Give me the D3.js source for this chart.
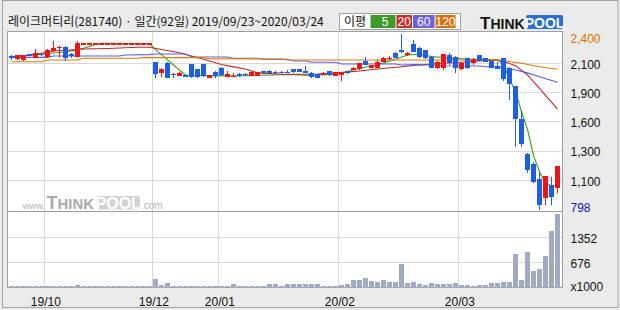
<!DOCTYPE html>
<html>
<head>
<meta charset="utf-8">
<script src="https://cdn.jsdelivr.net/npm/d3@7"></script>
<style>
  html, body { margin: 0; padding: 0; background: #ebebeb; }
  svg { display: block; }
</style>
</head>
<body>
<div id="chart"></div>
<script>
const titleText = "레이크머티리(281740) · 일간(92일) 2019/09/23~2020/03/24"

const opens = [2202,2172,2166,2217,2184,2215,2186,2248,2269,2284,2217,2193,
  2315,2315,2315,2315,2315,2315,2315,2315,2315,2315,2315,2315,
  2144,2041,2138,2037,2019,2026,2126,2080,2126,2001,2056,2092,2010,2010,2032,2035,
  2019,2019,2062,2065,2056,2056,2056,2077,2077,2062,2047,2032,2026,2062,2017,2026,
  2062,2071,2078,2153,2092,2092,2142,2170,2229,2254,2208,2309,2275,2254,2193,2092,
  2092,2208,2193,2080,2178,2133,2208,2178,2153,2110,2178,2092,1925,1621,1302,1213,
  1074,906,1022,997]
const highs = [2205,2210,2210,2220,2260,2220,2262,2336,2287,2286,2224,2336,
  2315,2315,2315,2315,2315,2315,2315,2315,2315,2315,2315,2315,
  2144,2092,2140,2040,2050,2030,2128,2082,2128,2028,2058,2095,2062,2041,2041,2040,
  2053,2056,2065,2075,2060,2062,2068,2080,2080,2111,2050,2035,2050,2065,2056,2056,
  2065,2095,2136,2193,2120,2163,2187,2195,2232,2400,2235,2345,2278,2258,2196,2150,
  2220,2224,2196,2136,2180,2178,2210,2180,2156,2147,2180,2095,1928,1706,1311,1234,
  1143,1107,1092,1198]
const lows = [2163,2165,2156,2195,2178,2198,2180,2238,2193,2153,2178,2190,
  2315,2315,2315,2315,2315,2315,2315,2315,2315,2315,2315,2315,
  2001,2010,1998,2001,2015,2005,2001,2001,2008,1998,2001,2020,2008,2005,2010,2015,
  2015,2015,2035,2040,2038,2040,2040,2045,2050,2044,2001,1998,2023,2020,2015,1974,
  2038,2068,2075,2115,2090,2090,2140,2165,2180,2228,2200,2235,2178,2170,2088,2080,
  2071,2117,2041,2075,2083,2117,2150,2145,2090,2078,1971,1797,1366,1366,1128,1037,
  798,839,839,946]
const closes = [2178,2208,2208,2199,2224,2205,2254,2269,2284,2178,2199,2315,
  2315,2315,2315,2315,2315,2315,2315,2315,2315,2315,2315,2315,
  2032,2080,2001,2023,2047,2010,2005,2010,2015,2026,2019,2026,2032,2019,2015,2023,
  2050,2053,2041,2047,2044,2047,2047,2050,2056,2047,2005,2001,2047,2026,2053,2053,
  2041,2092,2133,2117,2117,2147,2184,2184,2184,2233,2224,2238,2193,2178,2092,2147,
  2217,2133,2092,2133,2087,2169,2153,2147,2092,2080,1989,1944,1621,1393,1159,1052,
  839,1104,915,1195]

// volume, x1000 shares
const volumes = [30,25,30,20,35,20,40,45,30,40,25,81,
  0,0,0,0,0,0,0,0,0,0,0,0,
  235,81,117,40,35,40,35,45,40,35,40,35,40,90,40,35,40,45,40,90,90,45,
  108,108,90,90,90,90,45,40,45,72,90,216,216,270,189,162,
  216,144,162,649,126,162,99,72,126,90,108,90,126,81,81,54,72,81,126,126,162,162,
  919,216,955,441,514,865,1550,2000]

// moving averages: [day index, price]
const ma5 = [[0,2195],[3,2205],[6,2222],[9,2236],[11,2255],[12,2270],[13,2285],[14,2305],[15,2315],
  [23,2312],[24,2258],[25,2211],[26,2164],[27,2117],[28,2070],[29,2026],[33,2018],[40,2020],
  [46,2030],[50,2022],[53,2030],[55,2043],[58,2087],[61,2120],[64,2170],[66,2208],[68,2215],
  [70,2195],[73,2180],[76,2172],[79,2168],[81,2163],[82,2120],[83,1985],[84,1880],[85,1690],
  [86,1530],[87,1290],[88,1140],[89,1037],[90,1012],[91,1012]]
const ma20 = [[0,2190],[4,2215],[7,2245],[12,2263],[16,2268],[21,2279],[23,2279],[25,2258],
  [28,2229],[30,2199],[32,2170],[35,2122],[37,2100],[39,2080],[41,2045],[45,2032],[48,2032],
  [51,2035],[55,2047],[58,2062],[61,2080],[65,2101],[68,2117],[71,2131],[75,2142],[78,2153],
  [81,2163],[82,2150],[84,2111],[86,2026],[88,1904],[91,1715]]
const ma60 = [[0,2187],[6,2187],[7,2199],[18,2199],[19,2208],[23,2212],[24,2217],[29,2217],
  [30,2193],[36,2190],[37,2178],[41,2178],[42,2169],[46,2169],[47,2153],[49,2153],[50,2142],
  [54,2142],[55,2126],[64,2126],[65,2117],[67,2120],[71,2115],[72,2110],[78,2108],[79,2101],
  [81,2101],[84,2071],[86,2045],[88,2010],[91,1959]]
const ma120 = [[0,2147],[5,2147],[6,2163],[11,2163],[12,2178],[21,2178],[22,2184],[32,2184],
  [33,2175],[45,2172],[46,2163],[81,2163],[82,2158],[85,2133],[88,2101],[91,2078]]

const priceMin = 798
const priceMax = 2400
const priceTicks = [2133, 1866, 1599, 1332, 1065]
const priceTickLabels = ["2,100", "1,900", "1,600", "1,300", "1,100"]
const volMax = 2028
const volTicks = [676, 1352]
const monthIdx = [6, 24, 35, 55, 75]
const monthLabels = ["19/10", "19/12", "20/01", "20/02", "20/03"]
const maNames = ["5", "20", "60", "120"]
const maColors = ["#3a9a1a", "#c0282a", "#5c5ce2", "#e07800"]
const maLegendColors = ["#3e9a2a", "#c63028", "#6a60e0", "#d8700a"]

const upColor = "#f01414"
const downColor = "#1e5ee2"
const numFont = "'Liberation Sans', Arial, sans-serif"
const krFont = "'Noto Sans CJK KR', 'Noto Sans', sans-serif"

const svg = d3.select("#chart").append("svg")
  .attr("width", 620).attr("height", 310)
  .attr("font-family", numFont)

// outer frame
svg.append("rect")
  .attr("x", 2.5).attr("y", 0.5).attr("width", 615.5).attr("height", 307)
  .attr("fill", "#ebebeb").attr("stroke", "#a4a4a4")

const pane = { left: 7.5, right: 562.5, top: 31.5, bottom: 211.5 }
const vpane = { top: 211.5, bottom: 287.5 }

const x = d3.scaleBand().domain(d3.range(closes.length)).range([8.5, 560.5])
const y = d3.scaleLinear().domain([priceMin, priceMax]).range([209.5, 34])
const yv = d3.scaleLinear().domain([0, volMax]).range([287.5, 213])
const cx = i => x(i) + x.bandwidth() / 2
const crisp = v => Math.round(v - 0.5) + 0.5

// panels
svg.append("rect")
  .attr("x", pane.left).attr("y", pane.top)
  .attr("width", pane.right - pane.left).attr("height", pane.bottom - pane.top)
  .attr("fill", "#fff").attr("stroke", "#a0a0a0")
svg.append("rect")
  .attr("x", pane.left).attr("y", vpane.top)
  .attr("width", pane.right - pane.left).attr("height", vpane.bottom - vpane.top)
  .attr("fill", "#fff").attr("stroke", "#a0a0a0")

const grid = svg.append("g").attr("stroke", "#d8d8d8").attr("shape-rendering", "crispEdges")
grid.selectAll(".gy").data(priceTicks).enter().append("line")
  .attr("x1", pane.left + 0.5).attr("x2", pane.right - 0.5)
  .attr("y1", d => crisp(y(d))).attr("y2", d => crisp(y(d)))
grid.selectAll(".gv").data(volTicks).enter().append("line")
  .attr("x1", pane.left + 0.5).attr("x2", pane.right - 0.5)
  .attr("y1", d => crisp(yv(d))).attr("y2", d => crisp(yv(d)))
monthIdx.forEach(i => {
  grid.append("line").attr("x1", x(i)).attr("x2", x(i))
    .attr("y1", pane.top + 0.5).attr("y2", pane.bottom - 0.5)
  grid.append("line").attr("x1", x(i)).attr("x2", x(i))
    .attr("y1", vpane.top + 0.5).attr("y2", vpane.bottom - 0.5)
})

// watermark
const wm = svg.append("g").attr("font-family", numFont)
wm.append("text").attr("x", 22.5).attr("y", 208.5).attr("font-size", 9.5).attr("fill", "#b4b4b4").text("www.")
wm.append("text").attr("x", 46.5).attr("y", 209).attr("font-weight", "bold").attr("fill", "#a9a9a9")
  .attr("font-size", 18).text("T")
  .append("tspan").attr("font-size", 15).text("HINK")
wm.append("rect").attr("x", 96.5).attr("y", 196).attr("width", 43.5).attr("height", 13.5)
  .attr("rx", 2).attr("fill", "#d2d2d2")
wm.append("text").attr("x", 118.2).attr("y", 208.5).attr("text-anchor", "middle")
  .attr("font-weight", "bold").attr("font-size", 16).attr("fill", "#fff").text("POOL")
wm.append("text").attr("x", 141).attr("y", 208.5).attr("font-size", 10).attr("fill", "#b4b4b4").text(".com")

// moving averages
const line = d3.line().x(d => cx(d[0])).y(d => y(d[1]))
;[ma5, ma20, ma60, ma120].forEach((pts, k) => {
  svg.append("path")
    .datum(pts)
    .attr("d", line)
    .attr("fill", "none")
    .attr("stroke", maColors[k])
    .attr("stroke-width", 1.1)
})

// candles
const candles = svg.append("g").attr("shape-rendering", "crispEdges")
closes.forEach((c, i) => {
  const o = opens[i]
  const col = c >= o ? upColor : downColor
  candles.append("line")
    .attr("x1", cx(i)).attr("x2", cx(i))
    .attr("y1", y(highs[i])).attr("y2", y(lows[i]))
    .attr("stroke", col)
  const top = y(Math.max(o, c))
  candles.append("rect")
    .attr("x", x(i) + 0.5).attr("width", x.bandwidth() - 1)
    .attr("y", top).attr("height", Math.max(1.2, Math.abs(y(o) - y(c))))
    .attr("fill", col)
})

// volume bars
svg.append("g").attr("shape-rendering", "crispEdges")
  .selectAll("rect").data(volumes).enter().append("rect")
  .attr("x", (d, i) => x(i) + 0.5).attr("width", x.bandwidth() - 1)
  .attr("y", d => Math.min(yv(d), yv(0) - 1.3))
  .attr("height", d => Math.max(1.3, yv(0) - yv(d)))
  .attr("fill", "#a2aac2")

// price axis
const axisY = svg.append("g")
  .attr("transform", `translate(${pane.right},0)`)
  .call(d3.axisRight(y).tickValues(priceTicks).tickFormat((d, i) => priceTickLabels[i]).tickSize(0).tickPadding(8))
axisY.select(".domain").remove()
axisY.attr("font-family", numFont).attr("font-size", 12)
axisY.selectAll("text").attr("fill", "#111").attr("dy", "0.4em")

svg.append("text").attr("x", 570.5).attr("y", y(priceMax) + 4.5).attr("dy", "0.4em")
  .attr("font-size", 12).attr("fill", "#e07000").text(d3.format(",")(priceMax))
svg.append("text").attr("x", 570.5).attr("y", y(priceMin) - 2).attr("dy", "0.4em")
  .attr("font-size", 12).attr("fill", "#1414c8").text(d3.format(",")(priceMin))

// volume axis
const axisV = svg.append("g")
  .attr("transform", `translate(${pane.right},0)`)
  .call(d3.axisRight(yv).tickValues(volTicks).tickFormat(d3.format("d")).tickSize(0).tickPadding(8))
axisV.select(".domain").remove()
axisV.attr("font-family", numFont).attr("font-size", 12)
axisV.selectAll("text").attr("fill", "#111").attr("dy", "0.4em")
svg.append("text").attr("x", 570.5).attr("y", 286).attr("dy", "0.4em")
  .attr("font-size", 12).attr("fill", "#111").text("x1000")

// month axis
const axisX = svg.append("g")
  .attr("transform", "translate(-1.7,301)")
  .call(d3.axisBottom(x).tickValues(monthIdx).tickFormat((d, i) => monthLabels[i]).tickSize(0))
axisX.select(".domain").remove()
axisX.attr("font-family", numFont).attr("font-size", 12)
axisX.selectAll("text").attr("y", 0).attr("dy", "0.38em").attr("fill", "#111")

// title
svg.append("text").attr("x", 8).attr("y", 22).attr("dy", "0.36em")
  .attr("font-family", krFont).attr("font-size", 12).attr("fill", "#111")
  .text(titleText)

// legend
const lg = svg.append("g")
lg.append("rect").attr("x", 339.5).attr("y", 13.5).attr("width", 121).attr("height", 16)
  .attr("fill", "#fff").attr("stroke", "#a0a0a0")
lg.append("text").attr("x", 344).attr("y", 21.5).attr("dy", "0.36em")
  .attr("font-family", krFont).attr("font-size", 12).attr("fill", "#111").text("이평")
const boxW = [25, 15.5, 21.5, 20]
let bx = 370.5
maNames.forEach((n, k) => {
  lg.append("rect").attr("x", bx).attr("y", 15).attr("width", boxW[k]).attr("height", 13)
    .attr("fill", maLegendColors[k])
  lg.append("text").attr("x", bx + boxW[k] / 2 + (k === 0 ? 2 : 0)).attr("y", 21.5).attr("dy", "0.37em")
    .attr("text-anchor", "middle").attr("font-size", 12).attr("fill", "#fff").text(n)
  bx += boxW[k] + 1
})

// logo
const logo = svg.append("g")
logo.append("text").attr("x", 480).attr("y", 28.5).attr("font-weight", "bold").attr("fill", "#111")
  .attr("font-size", 17).text("T")
  .append("tspan").attr("font-size", 14).text("HINK")
logo.append("rect").attr("x", 526).attr("y", 15).attr("width", 37).attr("height", 14)
  .attr("rx", 2).attr("fill", "#2a6fd6")
logo.append("text").attr("x", 544.5).attr("y", 27.5).attr("text-anchor", "middle")
  .attr("font-weight", "bold").attr("font-size", 14).attr("fill", "#fff").text("POOL")
</script>
</body>
</html>
